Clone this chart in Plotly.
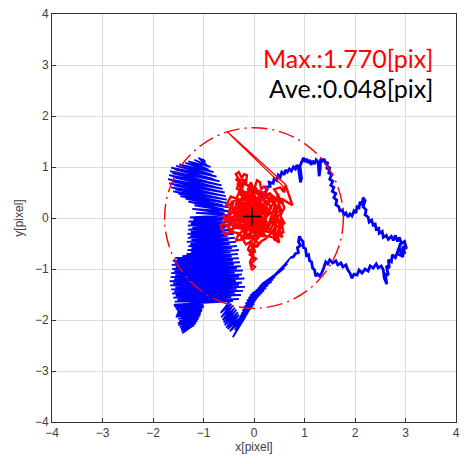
import plotly.graph_objects as go

# ---- data (pixel displacement traces) ----
blue_ridge = [
    (0.10, 0.38), (0.18, 0.50), (0.16, 0.42), (0.26, 0.56), (0.22, 0.60), (0.32, 0.62), (0.30, 0.70),
    (0.38, 0.68), (0.40, 0.78), (0.45, 0.74), (0.48, 0.84), (0.52, 0.80), (0.55, 0.90), (0.60, 0.85),
    (0.62, 0.94), (0.66, 0.90), (0.70, 0.96), (0.74, 0.92), (0.78, 1.00), (0.82, 0.96), (0.85, 1.04),
    (0.88, 0.98), (0.92, 0.70), (0.94, 0.78), (0.91, 1.02), (0.95, 1.10), (0.98, 1.18), (1.01, 1.10),
    (1.04, 1.16), (1.07, 1.08), (1.10, 1.14), (1.13, 1.04), (1.16, 1.12), (1.20, 1.06), (1.23, 1.14),
    (1.27, 1.10), (1.29, 0.82), (1.31, 0.95), (1.32, 1.16), (1.36, 1.12), (1.39, 1.16), (1.42, 1.05),
    (1.46, 1.10), (1.44, 0.96), (1.50, 1.00), (1.48, 0.88), (1.54, 0.86), (1.50, 0.76), (1.56, 0.72),
    (1.52, 0.64), (1.58, 0.60), (1.55, 0.52), (1.62, 0.48), (1.58, 0.40), (1.64, 0.35), (1.62, 0.26),
    (1.68, 0.22), (1.70, 0.14), (1.75, 0.16), (1.78, 0.06), (1.82, 0.10), (1.86, 0.02), (1.90, 0.08),
    (1.94, 0.04), (1.98, 0.14), (2.02, 0.10), (2.04, 0.22), (2.08, 0.20), (2.10, 0.32), (2.14, 0.26),
    (2.16, 0.40), (2.20, 0.34), (2.16, 0.22), (2.22, 0.16), (2.20, 0.06), (2.26, 0.02), (2.28, -0.08),
    (2.33, -0.04), (2.36, -0.14), (2.40, -0.12), (2.42, -0.22), (2.47, -0.20), (2.48, -0.30),
    (2.54, -0.26), (2.56, -0.38), (2.62, -0.34), (2.66, -0.42), (2.72, -0.36), (2.76, -0.44),
    (2.80, -0.34), (2.84, -0.46), (2.88, -0.38), (2.92, -0.50), (2.98, -0.46), (3.02, -0.60),
    (2.94, -0.56), (2.99, -0.70), (2.86, -0.58), (2.96, -0.76), (2.84, -0.70), (2.90, -0.50),
    (2.80, -0.78), (2.74, -0.72), (2.72, -0.86), (2.66, -0.82), (2.68, -0.98), (2.62, -0.94),
    (2.66, -1.12), (2.60, -1.10), (2.63, -1.30), (2.58, -1.18), (2.56, -1.02), (2.52, -0.94),
    (2.46, -0.98), (2.42, -0.90), (2.36, -0.98), (2.30, -0.94), (2.26, -1.04), (2.20, -1.00),
    (2.14, -1.08), (2.08, -1.02), (2.04, -1.12), (1.98, -1.10), (1.94, -1.18), (1.90, -1.08),
    (1.86, -1.02), (1.82, -0.92), (1.76, -0.96), (1.72, -0.88), (1.66, -0.92), (1.62, -0.84),
    (1.56, -0.88), (1.50, -0.82), (1.46, -0.90), (1.42, -0.86), (1.38, -0.98), (1.34, -1.08),
    (1.30, -1.14), (1.26, -1.10), (1.22, -1.14), (1.20, -1.02), (1.16, -0.98), (1.14, -0.86),
    (1.10, -0.84), (1.08, -0.72), (1.04, -0.74), (1.02, -0.60), (0.98, -0.58), (0.97, -0.46),
    (0.93, -0.42), (0.90, -0.36), (0.88, -0.46), (0.92, -0.54), (0.86, -0.58), (0.88, -0.68),
    (0.82, -0.70), (0.78, -0.76), (0.72, -0.78),
]

blue_band = [
    (0.72, -0.78), (0.45, -1.10), (0.68, -0.84), (0.40, -1.12), (0.66, -0.90), (0.35, -1.18),
    (0.62, -0.94), (0.30, -1.22), (0.60, -0.98), (0.25, -1.25), (0.55, -1.02), (0.20, -1.28),
    (0.50, -1.05), (0.15, -1.30), (0.46, -1.10), (0.11, -1.34), (0.42, -1.15), (0.08, -1.38),
    (0.38, -1.20), (0.04, -1.42), (0.35, -1.25), (0.00, -1.45), (0.31, -1.28), (-0.04, -1.48),
    (0.28, -1.32), (-0.08, -1.52), (0.24, -1.37), (-0.11, -1.57), (0.20, -1.42), (-0.14, -1.62),
    (0.16, -1.46), (-0.17, -1.68), (0.12, -1.50), (-0.20, -1.75), (0.08, -1.54), (-0.23, -1.82),
    (0.05, -1.58), (-0.25, -1.88), (0.02, -1.63), (-0.28, -1.94), (0.00, -1.68), (-0.30, -2.00),
    (-0.03, -1.72), (-0.33, -2.06), (-0.05, -1.75), (-0.36, -2.12), (-0.09, -1.80), (-0.38, -2.20),
    (-0.12, -1.85), (-0.40, -2.30), (-0.15, -1.90), (-0.42, -2.34), (-0.18, -1.95), (-0.48, -2.22),
    (-0.24, -1.92), (-0.52, -2.18), (-0.30, -1.90), (-0.55, -2.15), (-0.32, -1.85), (-0.58, -2.10),
    (-0.35, -1.80), (-0.60, -2.05), (-0.38, -1.76), (-0.62, -2.00), (-0.42, -1.72), (-0.65, -1.95),
    (-0.45, -1.68), (-0.66, -1.86), (-0.48, -1.65), (-0.62, -1.80), (-0.45, -1.60),
]

blue_lower_left = [
    (-1.00, -1.62), (-1.55, -1.74), (-0.98, -1.66), (-1.55, -1.78), (-1.00, -1.70), (-1.52, -1.82),
    (-0.99, -1.74), (-1.52, -1.86), (-1.02, -1.78), (-1.54, -1.90), (-1.03, -1.82), (-1.55, -1.94),
    (-1.05, -1.86), (-1.50, -1.98), (-1.06, -1.90), (-1.48, -2.02), (-1.08, -1.94), (-1.51, -2.06),
    (-1.10, -1.98), (-1.50, -2.10), (-1.12, -2.02), (-1.47, -2.14), (-1.15, -2.06), (-1.45, -2.18),
    (-1.18, -2.10), (-1.44, -2.22), (-1.22, -2.12), (-1.42, -2.26), (-1.25, -2.14), (-1.58, -1.70),
]

blue_blob = [
    (-0.42, -1.63), (-1.57, -1.64), (-0.30, -1.59), (-1.52, -1.60), (-0.45, -1.55), (-1.60, -1.56),
    (-0.26, -1.51), (-1.55, -1.52), (-0.38, -1.47), (-1.62, -1.48), (-0.22, -1.43), (-1.58, -1.44),
    (-0.34, -1.39), (-1.64, -1.40), (-0.18, -1.35), (-1.56, -1.36), (-0.30, -1.31), (-1.66, -1.32),
    (-0.24, -1.27), (-1.60, -1.28), (-0.36, -1.23), (-1.67, -1.24), (-0.19, -1.19), (-1.58, -1.20),
    (-0.30, -1.15), (-1.65, -1.16), (-0.24, -1.11), (-1.56, -1.12), (-0.38, -1.07), (-1.64, -1.08),
    (-0.22, -1.03), (-1.58, -1.04), (-0.34, -0.99), (-1.62, -1.00), (-0.26, -0.95), (-1.55, -0.96),
    (-0.40, -0.91), (-1.63, -0.92), (-0.28, -0.87), (-1.57, -0.88), (-0.42, -0.83), (-1.61, -0.84),
    (-0.30, -0.79), (-1.52, -0.80), (-0.44, -0.75), (-1.56, -0.78), (-0.32, -0.71), (-1.42, -0.75),
    (-0.46, -0.67), (-1.34, -0.71), (-0.30, -0.63), (-1.25, -0.67), (-0.44, -0.59), (-1.32, -0.63),
    (-0.34, -0.55), (-1.24, -0.59), (-0.48, -0.51), (-1.30, -0.55), (-0.36, -0.47), (-1.26, -0.51),
    (-0.50, -0.43), (-1.33, -0.47), (-0.38, -0.39), (-1.24, -0.43), (-0.52, -0.35), (-1.31, -0.39),
    (-0.40, -0.31), (-1.26, -0.35), (-0.54, -0.27), (-1.32, -0.31), (-0.42, -0.23), (-1.25, -0.27),
    (-0.56, -0.19), (-1.30, -0.23), (-0.46, -0.15), (-1.22, -0.19), (-0.58, -0.11), (-1.31, -0.15),
    (-0.48, -0.07), (-1.25, -0.11), (-0.60, -0.03), (-1.30, -0.07), (-0.52, 0.01), (-1.20, -0.03),
    (-0.62, 0.05), (-1.27, 0.01),
]

blue_upper = [
    (-0.50, 0.05), (-1.15, 0.10), (-0.58, 0.09), (-1.22, 0.18), (-0.48, 0.13), (-1.18, 0.25),
    (-0.60, 0.17), (-1.30, 0.32), (-0.50, 0.21), (-1.36, 0.38), (-0.62, 0.25), (-1.46, 0.43),
    (-0.52, 0.29), (-1.50, 0.48), (-0.64, 0.32), (-1.60, 0.52), (-0.54, 0.36), (-1.56, 0.56),
    (-0.68, 0.39), (-1.64, 0.60), (-0.56, 0.43), (-1.58, 0.64), (-0.70, 0.46), (-1.68, 0.68),
    (-0.58, 0.50), (-1.62, 0.72), (-0.72, 0.53), (-1.70, 0.76), (-0.62, 0.57), (-1.60, 0.80),
    (-0.74, 0.60), (-1.68, 0.84), (-0.64, 0.64), (-1.62, 0.88), (-0.78, 0.67), (-1.66, 0.92),
    (-0.68, 0.72), (-1.58, 0.96), (-0.80, 0.76), (-1.64, 0.99), (-0.74, 0.81), (-1.54, 1.02),
    (-0.84, 0.85), (-1.48, 1.05), (-0.80, 0.90), (-1.36, 1.08), (-0.90, 0.95), (-1.30, 1.11),
    (-0.86, 1.00), (-1.18, 1.14), (-0.94, 1.04), (-1.10, 1.18), (-0.96, 1.10), (-1.02, 1.16),
]

red_before_max = [
    (0.02, 0.05), (-0.12, 0.22), (0.08, 0.35), (-0.22, 0.12), (0.15, 0.18), (-0.30, 0.30),
    (-0.18, 0.48), (-0.34, 0.58), (-0.28, 0.72), (-0.36, 0.86), (-0.30, 0.90), (-0.24, 0.78),
    (-0.20, 0.86), (-0.14, 0.84), (-0.16, 0.66), (-0.08, 0.62), (-0.12, 0.46), (-0.02, 0.40),
    (-0.10, 0.28), (0.06, 0.22), (-0.04, 0.10), (0.12, 0.04), (0.00, -0.08), (0.18, -0.12),
    (0.08, 0.12), (0.22, 0.30), (0.10, 0.44), (0.02, 0.62), (0.06, 0.74), (0.12, 0.70),
    (0.14, 0.56), (0.20, 0.62), (0.26, 0.58), (0.22, 0.46), (0.30, 0.40), (0.24, 0.22),
    (0.34, 0.10), (0.20, 0.00), (0.30, -0.14), (0.12, -0.22), (0.22, -0.34), (0.04, -0.30),
    (-0.08, -0.18), (-0.20, -0.28), (-0.10, -0.40), (-0.28, -0.34), (-0.18, -0.12), (-0.36, -0.20),
    (-0.26, 0.02), (-0.44, -0.04), (-0.34, 0.14), (-0.50, 0.10), (-0.40, 0.30), (-0.56, 0.24),
    (-0.46, 0.42), (-0.30, 0.36), (-0.40, 0.16), (-0.24, 0.20), (-0.32, -0.06), (-0.14, 0.02),
    (-0.22, -0.20), (-0.02, -0.14), (-0.10, 0.06), (0.10, -0.02), (0.02, 0.18), (0.18, 0.10),
    (0.10, 0.30), (-0.06, 0.34), (-0.16, 0.20), (-0.02, 0.06), (-0.18, -0.04), (-0.08, -0.26),
    (0.06, -0.10), (0.16, -0.30), (0.28, -0.20), (0.36, -0.02), (0.44, 0.12), (0.40, 0.32),
    (0.48, 0.44), (0.40, 0.56), (0.52, 0.60), (0.58, 0.52), (0.62, 0.62), (0.60, 0.50),
    (0.58, 0.62),
]

red_max_point = (-0.53, 1.69)

red_after_max = [
    (0.62, 0.66), (0.76, 0.25), (0.54, 0.38), (0.60, 0.20), (0.52, 0.04), (0.60, -0.10),
    (0.50, -0.20), (0.56, -0.38), (0.46, -0.30), (0.50, -0.48), (0.40, -0.42), (0.44, -0.14),
    (0.34, -0.30), (0.24, -0.40), (0.14, -0.46), (0.06, -0.56), (-0.04, -0.50), (0.02, -0.66),
    (-0.08, -0.72), (0.04, -0.80), (-0.06, -0.90), (0.02, -0.96), (-0.04, -1.02), (-0.08, -0.86),
    (-0.02, -0.74), (-0.12, -0.62), (-0.04, -0.44), (-0.16, -0.52), (-0.22, -0.42), (-0.36, -0.44),
    (-0.30, -0.30), (-0.48, -0.26), (-0.56, -0.34), (-0.62, -0.24), (-0.66, -0.14), (-0.56, -0.06),
    (-0.62, 0.06), (-0.52, -0.02), (-0.42, -0.16), (-0.48, 0.00), (-0.36, 0.04), (-0.28, -0.10),
    (-0.14, -0.06), (-0.20, 0.08), (-0.08, 0.16), (0.04, 0.28), (-0.02, 0.50), (-0.12, 0.56),
    (-0.06, 0.70), (0.00, 0.54), (0.14, 0.40), (0.28, 0.30), (0.34, 0.20), (0.26, 0.06),
    (0.12, 0.12), (0.00, -0.02), (-0.12, -0.10), (-0.26, -0.18), (-0.14, -0.30), (0.00, -0.36),
    (0.10, -0.16), (0.24, -0.08), (0.14, 0.06), (0.04, 0.00), (-0.30, 0.24), (0.20, 0.40),
    (-0.40, -0.10), (0.26, -0.26), (-0.20, 0.52), (0.30, 0.14), (-0.46, 0.20), (0.10, -0.40),
    (-0.26, -0.40), (0.34, 0.36), (-0.10, 0.62), (0.16, 0.20), (-0.38, 0.06), (0.00, 0.44),
    (0.24, 0.00), (-0.22, -0.16), (0.40, -0.30), (0.46, 0.20), (0.30, 0.50), (0.50, 0.30),
    (0.36, -0.10), (0.54, -0.20), (0.42, 0.04), (0.20, -0.20), (-0.06, -0.06), (-0.34, 0.40),
    (-0.24, 0.64), (-0.36, 0.76), (-0.18, 0.74), (-0.26, 0.50), (0.06, 0.52), (-0.14, 0.32),
    (0.12, 0.28), (-0.30, 0.00), (-0.54, -0.14), (-0.40, -0.30), (-0.60, -0.10), (-0.44, 0.10),
    (-0.18, 0.10), (0.08, -0.20), (-0.12, -0.34), (0.16, -0.36), (0.30, -0.36), (0.44, -0.40),
    (0.52, -0.10), (0.40, 0.14), (0.56, 0.10), (0.46, 0.36), (0.24, 0.12), (0.00, 0.24),
    (-0.20, 0.36), (-0.32, 0.18), (-0.10, -0.16), (0.02, -0.24), (-0.16, 0.00), (0.20, 0.26),
    (0.02, 0.10), (-0.24, 0.28), (0.12, 0.34), (-0.34, 0.08), (0.18, -0.06), (-0.20, -0.24),
    (0.06, 0.40), (-0.28, 0.46), (0.22, 0.16), (-0.42, -0.18), (0.14, -0.28), (-0.06, 0.48),
    (0.28, 0.04), (-0.36, 0.30), (0.04, -0.34), (-0.14, 0.12), (0.32, -0.24), (0.48, 0.08),
    (0.38, -0.34), (0.58, -0.28), (0.46, 0.48), (0.56, 0.28), (0.36, 0.44), (0.18, 0.50),
    (-0.04, 0.58), (-0.22, 0.70), (-0.32, 0.66), (-0.12, 0.40), (-0.44, 0.32), (-0.52, 0.02),
    (-0.36, -0.12), (-0.50, -0.30), (-0.24, -0.06), (0.00, -0.18), (0.22, -0.12), (0.08, 0.06),
    (-0.08, 0.24), (0.16, 0.30), (-0.18, -0.30), (0.10, -0.50), (-0.06, -0.62), (0.00, -0.84),
    (-0.04, -0.56), (0.12, -0.32), (0.30, -0.10), (0.42, 0.26), (0.26, 0.40), (0.00, 0.32),
    (-0.26, 0.12), (-0.06, 0.00),
]

mean_point = (-0.04, 0.027)
max_radius = 1.770
ave_value = 0.048

axis_ticks = [-4, -3, -2, -1, 0, 1, 2, 3, 4]
tick_text = ["\u22124", "\u22123", "\u22122", "\u22121", "0", "1", "2", "3", "4"]

# ---- assemble paths ----
blue_fill_path = blue_band + blue_lower_left + blue_blob + blue_upper
# the single jump out to the farthest sample and back
red_jump = [red_before_max[-1], red_max_point, red_after_max[0]]

BLUE = "#0000ff"
RED = "#ff0000"


def xs(pts):
    return [p[0] for p in pts]


def ys(pts):
    return [p[1] for p in pts]


def track(pts, color, width):
    return go.Scatter(
        x=xs(pts), y=ys(pts), mode="lines",
        line=dict(color=color, width=width), hoverinfo="skip", showlegend=False,
    )


fig = go.Figure()
fig.add_trace(track(blue_ridge, BLUE, 2.8))
fig.add_trace(track(blue_fill_path, BLUE, 1.8))
fig.add_trace(track(red_before_max, RED, 2.4))
fig.add_trace(track(red_jump, RED, 1.3))
fig.add_trace(track(red_after_max, RED, 2.4))
fig.add_trace(go.Scatter(
    x=[mean_point[0]], y=[mean_point[1]], mode="markers",
    marker=dict(symbol="cross-thin", size=13, line=dict(color="black", width=1.5)),
    hoverinfo="skip", showlegend=False,
))

# circle of the maximum displacement
fig.add_shape(
    type="circle", xref="x", yref="y",
    x0=-max_radius, y0=-max_radius, x1=max_radius, y1=max_radius,
    line=dict(color=RED, width=1.4, dash="16px,5px,2px,5px"), layer="above",
)

fig.add_annotation(
    x=3.58, y=3.14, xref="x", yref="y", xanchor="right", yanchor="middle",
    text=f"Max.:{max_radius:.3f}[pix]", showarrow=False,
    font=dict(family="Lato", size=25, color=RED),
)
fig.add_annotation(
    x=3.58, y=2.55, xref="x", yref="y", xanchor="right", yanchor="middle",
    text=f"Ave.:{ave_value:.3f}[pix]", showarrow=False,
    font=dict(family="Lato", size=25, color="black"),
)

axis_common = dict(
    range=[-4, 4], tickmode="array", tickvals=axis_ticks, ticktext=tick_text,
    showgrid=True, gridcolor="#dcdcdc", gridwidth=1,
    zeroline=False, showline=True, linecolor="#333333", linewidth=1, mirror=True,
    ticks="inside", ticklen=4, tickcolor="#333333",
    tickfont=dict(family="Liberation Sans", size=12, color="#404040"),
    title_font=dict(family="Liberation Sans", size=12, color="#404040"),
)

fig.update_xaxes(**axis_common, title_text="x[pixel]", title_standoff=2)
fig.update_yaxes(**axis_common, title_text="y[pixel]", title_standoff=8)

fig.update_layout(
    width=466, height=464,
    margin=dict(l=52, r=6, t=14, b=42),
    paper_bgcolor="white", plot_bgcolor="white",
)

fig.write_html("out.html")
